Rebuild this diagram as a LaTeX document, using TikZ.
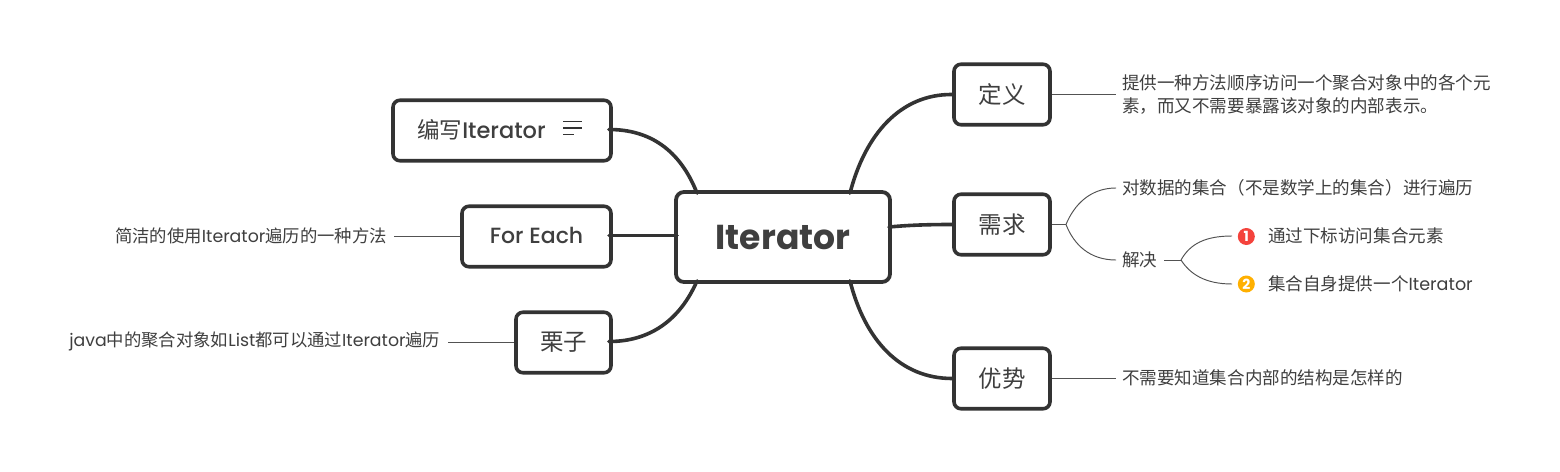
\documentclass[tikz,border=0pt]{standalone}
\usepackage{fontspec}
\setmainfont{Poppins}
\newfontfamily\cjk{Noto Sans CJK SC}
\newfontfamily\medfont{Poppins Medium}
\newcommand{\zh}[1]{{\cjk #1}}
\definecolor{ink}{HTML}{333333}
\definecolor{txt}{HTML}{3F3F3F}
\definecolor{badgered}{HTML}{F4433C}
\definecolor{badgeamber}{HTML}{FFB000}
\tikzset{
  x=1pt,y=-1pt,
  topic/.style={draw=ink,line width=3.6pt,rounded corners=7pt,fill=white,inner sep=0pt,text=txt,align=center,font=\fontsize{23.5}{26}\selectfont},
  leaf/.style={inner sep=0pt,anchor=west,text=txt,align=left,font=\fontsize{17.55}{23}\selectfont},
  leftleaf/.style={leaf,anchor=east,font=\fontsize{17.35}{23}\selectfont},
  trunk/.style={draw=ink,line width=3.6pt,line cap=round},
  twig/.style={draw=ink!85!white,line width=0.95pt},
  badge/.style={circle,minimum size=17pt,inner sep=0pt,text=white,font=\fontsize{14}{14}\selectfont\bfseries}
}
\begin{document}
\begin{tikzpicture}
\useasboundingbox (0,0) rectangle (1560,471);
\fill[white] (0,0) rectangle (1560,471);

\node[topic,minimum width=96pt,minimum height=60.5pt] (def) at (1002,94.5) {\raisebox{1pt}{\zh{定义}}};
\node[topic,minimum width=96pt,minimum height=60.5pt] (need) at (1002,224.5) {\raisebox{1pt}{\zh{需求}}};
\node[topic,minimum width=96pt,minimum height=60.5pt] (adv) at (1002,378.5) {\raisebox{1pt}{\zh{优势}}};
\node[topic,minimum width=218pt,minimum height=60.5pt,font=\fontsize{22.5}{26}\selectfont] (write) at (502,130.5) {\raisebox{2.5pt}{\zh{编写}\medfont\kern0pt Iterator}\hspace{41pt}};
\node[topic,minimum width=149pt,minimum height=60.5pt,font=\fontsize{22}{26}\selectfont\medfont] (each) at (536.5,236.5) {\raisebox{1.5pt}{For Each}};
\node[topic,minimum width=95pt,minimum height=60.5pt] (eg) at (563.5,342.5) {\raisebox{1pt}{\zh{栗子}}};
\node[topic,minimum width=214pt,minimum height=90pt,line width=3.8pt,rounded corners=8pt,font=\fontsize{34.6}{40}\selectfont\bfseries] (root) at (783,237) {Iterator};

\draw[trunk] ([shift={(-41.9,3)}]root.north east) .. controls (865,135) and (900,94) .. (def.west);
\draw[trunk] ([shift={(-2.9,-10)}]root.east) .. controls (910,225) and (930,224.5) .. (need.west);
\draw[trunk] ([shift={(-41.9,-3)}]root.south east) .. controls (865,340) and (900,378.5) .. (adv.west);
\draw[trunk] ([shift={(22.9,3)}]root.north west) .. controls (680,150) and (650,129.5) .. ([shift={(-3.8,-1)}]write.east);
\draw[trunk] ([shift={(2.9,-1.5)}]root.west) -- ([shift={(-3.8,-1)}]each.east);
\draw[trunk] ([shift={(22.9,-3)}]root.south west) .. controls (680,320) and (650,341.5) .. ([shift={(-3.8,-1)}]eg.east);

\coordinate (gl) at (563,121.7);
\draw[draw=ink,line width=1.3pt] (gl) -- +(18.7,0) ++(0,6.4) -- +(18.7,0) ++(0,6.6) -- +(11.3,0);

\node[leaf] (defl) at (1122,94) {\zh{提供一种方法顺序访问一个聚合对象中的各个元}\\\zh{素，而又不需要暴露该对象的内部表示。}};
\node[leaf] (needa) at (1122,187.5) {\zh{对数据的集合（不是数学上的集合）进行遍历}};
\node[leaf] (needb) at (1122,259.5) {\zh{解决}};
\node[badge,fill=badgered] (b1) at (1246.3,236.5) {1};
\node[badge,fill=badgeamber] (b2) at (1246.3,284) {2};
\node[leaf] (s1) at (1268,236) {\zh{通过下标访问集合元素}};
\node[leaf] (s2) at (1268,284) {\zh{集合自身提供一个}Iterator};
\node[leaf] (advl) at (1122,377.5) {\zh{不需要知道集合内部的结构是怎样的}};

\node[leftleaf] (eachl) at (387,235.5) {\zh{简洁的使用}Iterator\zh{遍历的一种方法}};
\node[leftleaf] (egl) at (440.5,341.5) {java\zh{中的聚合对象如}List\zh{都可以通过}Iterator\zh{遍历}};

\coordinate (defend) at (1116,94.5);
\coordinate (hub) at (1066,224.5);
\coordinate (hubtop) at (1116,188);
\coordinate (hubbot) at (1116,260);
\coordinate (hub2s) at (1164,260);
\coordinate (hub2) at (1181,260);
\coordinate (s1end) at (1232,236);
\coordinate (s2end) at (1232,284);
\coordinate (advend) at (1116,378.5);
\coordinate (eachend) at (394,236.5);
\coordinate (egend) at (448,342.5);

\draw[twig] (def.east) -- (defend);
\draw[twig] (need.east) -- (hub);
\draw[twig] (hub) .. controls (1074,205) and (1090,188) .. (hubtop);
\draw[twig] (hub) .. controls (1074,245) and (1090,260) .. (hubbot);
\draw[twig] (hub2s) -- (hub2);
\draw[twig] (hub2) .. controls (1190,244) and (1205,236) .. (s1end);
\draw[twig] (hub2) .. controls (1190,274) and (1205,284) .. (s2end);
\draw[twig] (adv.east) -- (advend);
\draw[twig] (each.west) -- (eachend);
\draw[twig] (eg.west) -- (egend);
\end{tikzpicture}
\end{document}
